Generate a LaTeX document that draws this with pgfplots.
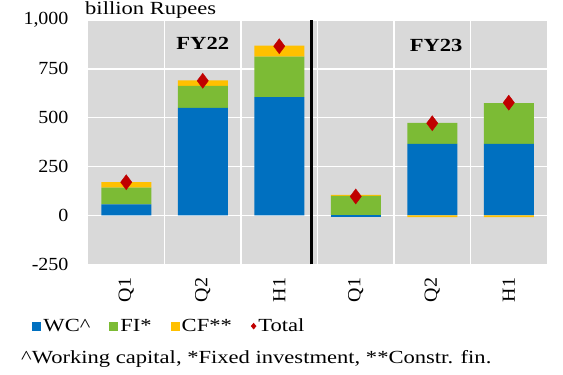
\documentclass[border=0pt]{standalone}
\usepackage{fontspec}
\setmainfont{Liberation Serif}[FakeStretch=1.22]
\newfontfamily\tickfont{Liberation Serif}[FakeStretch=1.08]
\usepackage{pgfplots}
\pgfplotsset{compat=1.18}
\definecolor{wcblue}{HTML}{0070C0}
\definecolor{figreen}{HTML}{7CBB35}
\definecolor{cfyellow}{HTML}{FFC000}
\definecolor{totred}{HTML}{C00000}
\definecolor{bgc}{HTML}{D9D9D9}
\newcommand{\chartfont}{\fontsize{18.5}{21}\selectfont}
\pgfplotsset{
  common/.style={
    at={(88pt,110.7pt)}, anchor=south west,
    scale only axis, width=459pt, height=244.3pt,
    xmin=-0.5, xmax=5.5, ymin=-250, ymax=1000,
  },
}
\begin{document}
\begin{tikzpicture}
\useasboundingbox (0,0) rectangle (563pt,375pt);
% axis 1: background, grid, positive parts
\begin{axis}[
  common,
  ybar stacked, bar width=50pt,
  axis background/.style={fill=bgc},
  axis line style={draw=none},
  ytick={-250,0,250,500,750,1000},
  ymajorgrids,
  xtick={0,...,5}, xticklabels={Q1,Q2,H1,Q1,Q2,H1},
  minor xtick={0.5,1.5,2.5,3.5,4.5},
  xminorgrids,
  grid style={white, line width=1.5pt},
  minor grid style={white, line width=1.5pt},
  major tick length=0pt, minor tick length=0pt,
  tick label style={font=\tickfont\chartfont},
  yticklabel style={/pgf/number format/assume math mode=true,
    /pgf/number format/1000 sep={,}, xshift=-16pt},
  xticklabel style={rotate=90, anchor=east, xshift=-10pt},
  legend style={at={(-0.128,-0.253)}, anchor=west, legend columns=4,
    draw=none, fill=none, font=\chartfont,
    /tikz/every even column/.append style={column sep=17pt}},
  legend image code/.code={\fill[#1] (0pt,-4.5pt) rectangle (9pt,4.5pt);},
]
\addplot[fill=wcblue, draw=none] coordinates {(0,57) (1,550) (2,606) (3,0) (4,366) (5,366)};
\addplot[fill=figreen, draw=none] coordinates {(0,85) (1,113) (2,206) (3,100) (4,108) (5,209)};
\addplot[fill=cfyellow, draw=none] coordinates {(0,28) (1,28) (2,57) (3,5) (4,0) (5,0)};
\legend{WC\string^,FI*,CF**,Total}
\addlegendimage{legend image code/.code={\fill[totred] (5pt,-3pt) -- (7.5pt,0pt) -- (5pt,3pt) -- (2.5pt,0pt) -- cycle;}}
\end{axis}
% axis 2: negative parts
\begin{axis}[
  common, hide axis,
  ybar stacked, bar width=50pt,
]
\addplot[fill=wcblue, draw=none] coordinates {(0,0) (1,0) (2,0) (3,-8) (4,0) (5,0)};
\addplot[fill=figreen, draw=none] coordinates {(0,0) (1,0) (2,0) (3,0) (4,0) (5,0)};
\addplot[fill=cfyellow, draw=none] coordinates {(0,0) (1,0) (2,0) (3,0) (4,-8) (5,-8)};
\end{axis}
% axis 3: totals, divider, labels
\begin{axis}[
  common, hide axis, clip=false,
]
\addplot[only marks, mark=diamond*, mark size=7.5pt, color=totred]
  coordinates {(0,170) (1,689) (2,866) (3,97) (4,472) (5,577)};
\addplot[black, line width=3pt] coordinates {(2.42,-250) (2.42,1000)};
\node[font=\chartfont\bfseries] at (axis cs:1,880) {FY22};
\node[font=\chartfont\bfseries] at (axis cs:4.05,870) {FY23};
\end{axis}
\node[font=\chartfont, anchor=base west, inner sep=0pt] at (85pt,360pt) {billion Rupees};
\node[font=\chartfont, anchor=base west, inner sep=0pt] at (21pt,11pt) {\string^Working capital, *Fixed investment, **Constr. fin.};
\end{tikzpicture}
\end{document}
